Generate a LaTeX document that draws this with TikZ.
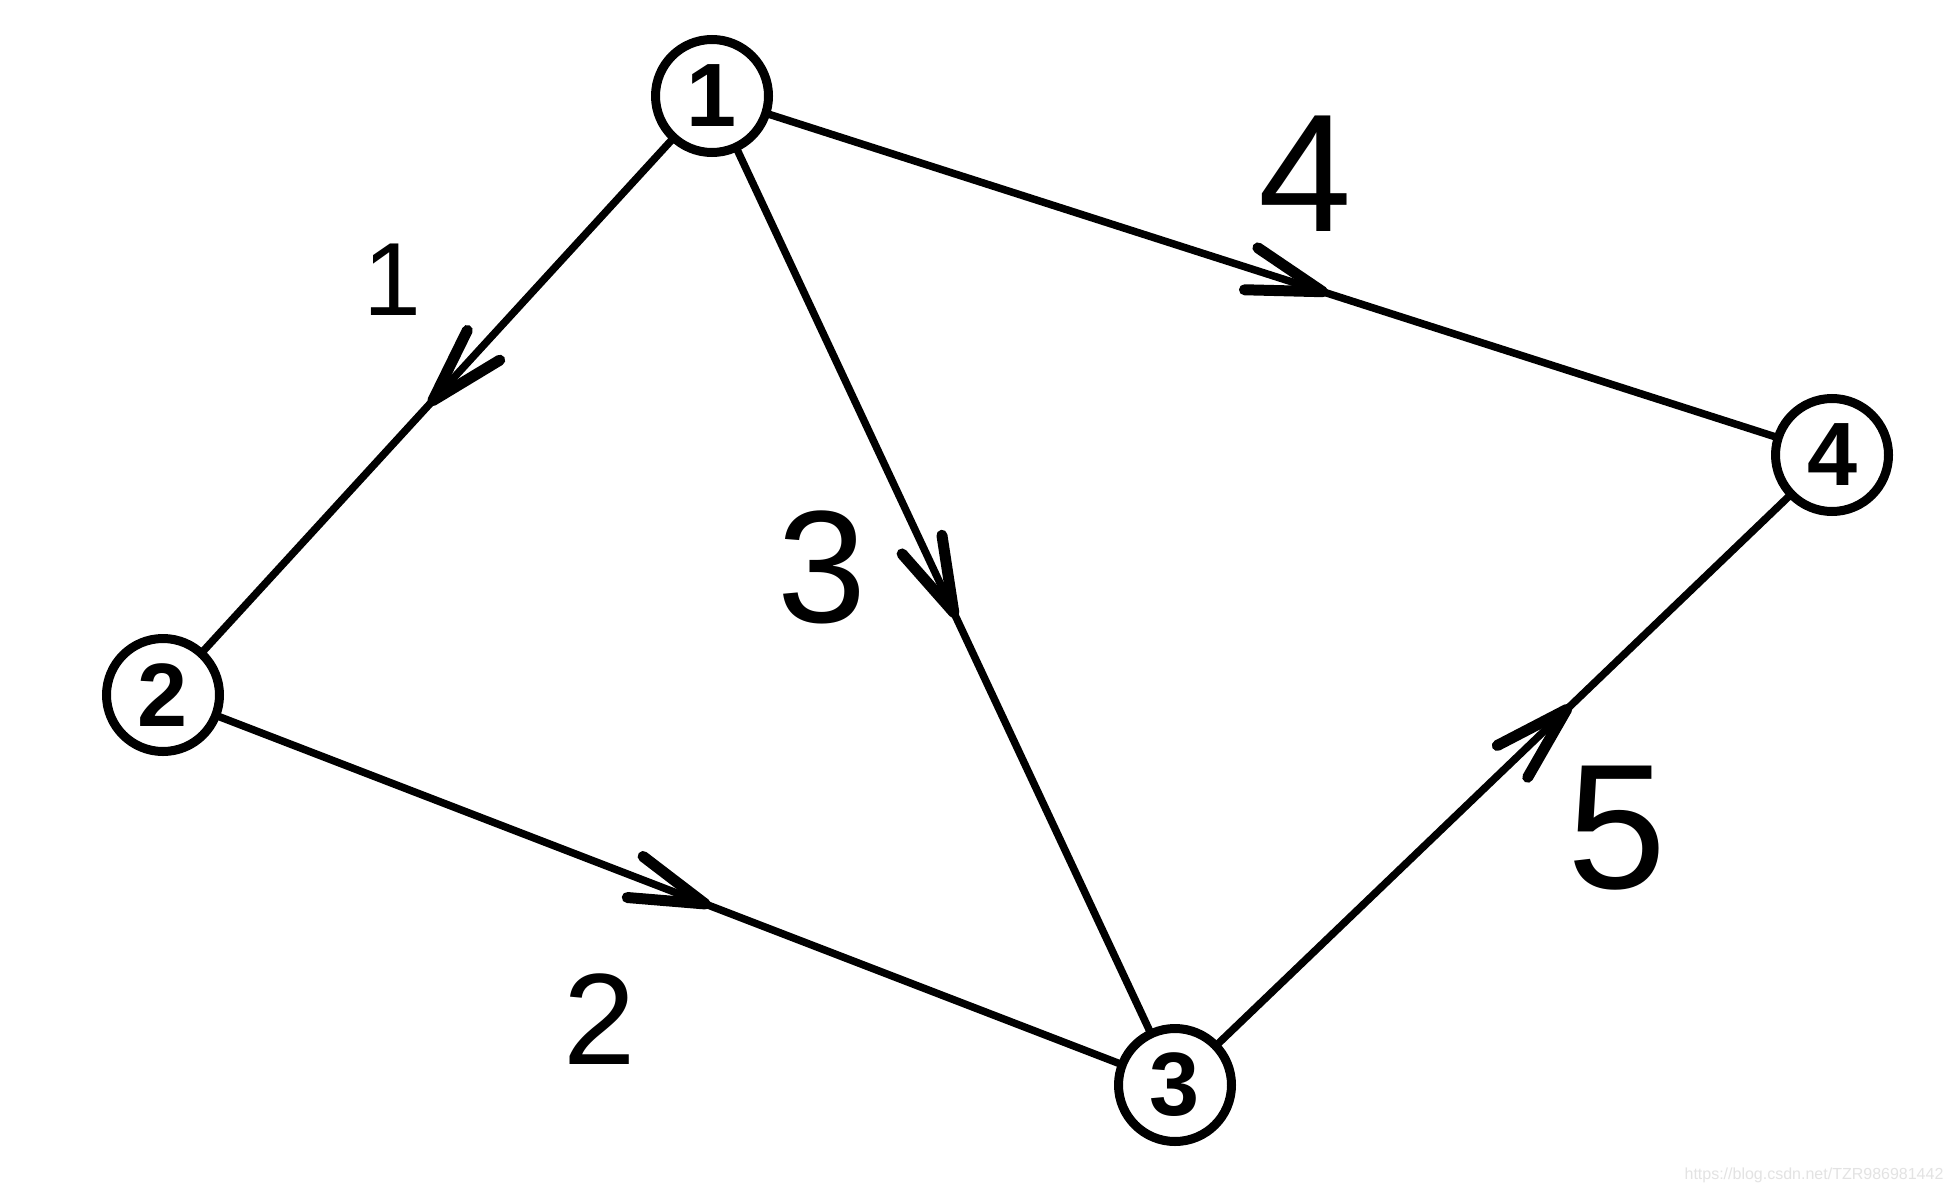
\documentclass[tikz,border=0pt]{standalone}
\usepackage{fontspec}
\setmainfont{Liberation Sans}
\usetikzlibrary{decorations.markings}
\begin{document}
\begin{tikzpicture}[x=1pt,y=-1pt,
  vertex/.style={circle, draw, line width=9pt, minimum size=113pt, inner sep=0pt, outer sep=0pt, font=\fontsize{90}{90}\selectfont\bfseries},
  edge/.style={line width=7.5pt},
  lbl/.style={inner sep=0pt, font=\fontsize{#1}{#1}\selectfont},
  midarrow/.style={postaction={decorate}, decoration={markings, mark=at position #1 with {\draw[line width=11pt, line cap=round, line join=round] (-75pt,22pt) -- (0pt,0pt) -- (-75pt,-22pt);}}}]
\fill[white] (0,0) rectangle (1953,1193);
\useasboundingbox (0,0) rectangle (1953,1193);
\node[vertex] (n1) at (712,96) {1};
\node[vertex] (n2) at (163,695) {2};
\node[vertex] (n3) at (1175,1085) {3};
\node[vertex] (n4) at (1832,455) {4};
\draw[edge, midarrow=0.51] (n1) -- (n2);
\draw[edge, midarrow=0.525] (n1) -- (n3);
\draw[edge, midarrow=0.55] (n1) -- (n4);
\draw[edge, midarrow=0.54] (n2) -- (n3);
\draw[edge, midarrow=0.61] (n3) -- (n4);
\node[lbl=104] (l1) at (392,280) {1};
\node[lbl=160] (l3) at (822,567) {3};
\node[lbl=168] (l4) at (1305,174) {4};
\node[lbl=130] (l2) at (600,1019) {2};
\node[lbl=178] (l5) at (1617,828) {5};
\node[inner sep=0pt, text=gray!22, font=\fontsize{16}{16}\selectfont] (wm) at (1814,1175) {https://blog.csdn.net/TZR986981442};
\end{tikzpicture}
\end{document}
